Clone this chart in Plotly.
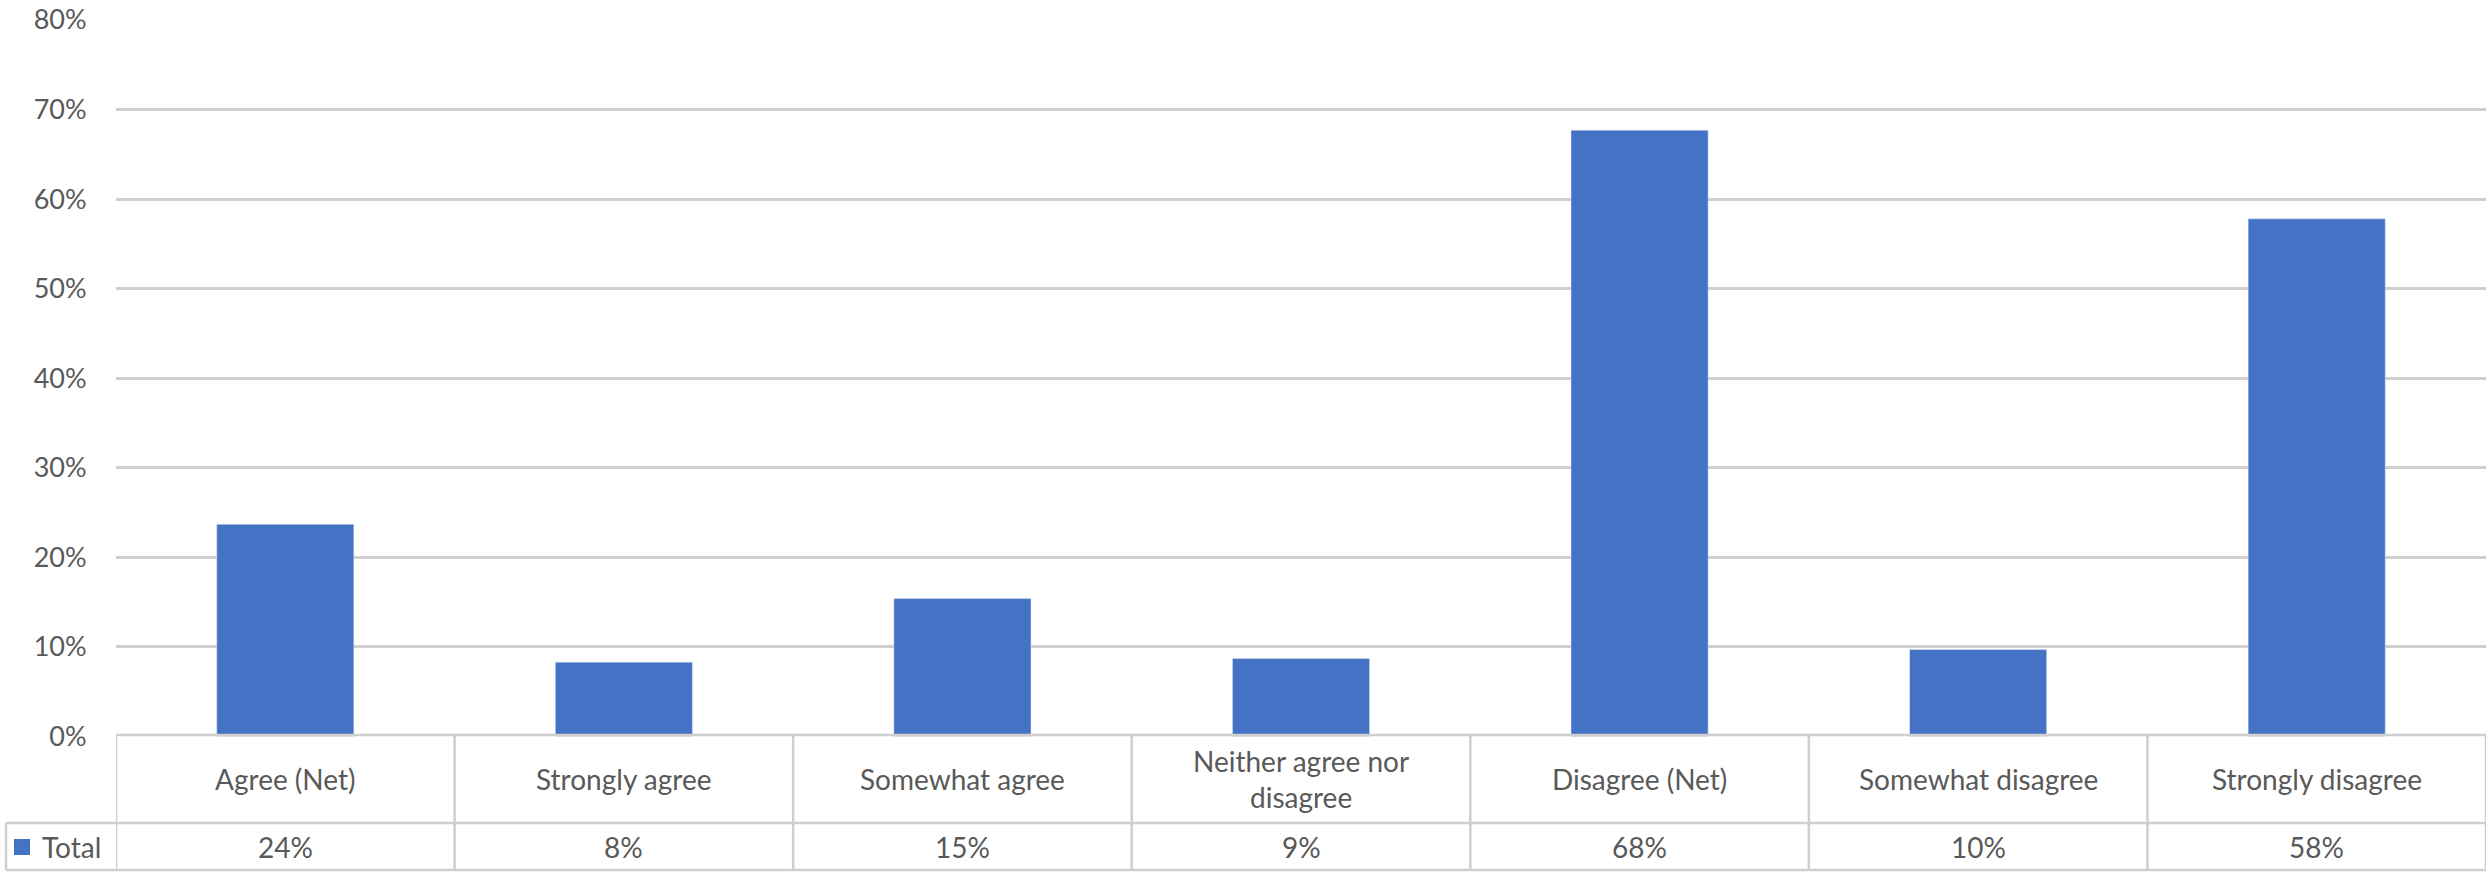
import plotly.graph_objects as go

# ---- data ----
categories = ["Agree (Net)", "Strongly agree", "Somewhat agree",
              "Neither agree nor disagree", "Disagree (Net)",
              "Somewhat disagree", "Strongly disagree"]
category_labels = ["Agree (Net)", "Strongly agree", "Somewhat agree",
                   "Neither agree nor<br>disagree", "Disagree (Net)",
                   "Somewhat disagree", "Strongly disagree"]
total_values = [0.237, 0.083, 0.154, 0.087, 0.677, 0.097, 0.578]
series_name = "Total"
y_tick_vals = [0, 0.1, 0.2, 0.3, 0.4, 0.5, 0.6, 0.7, 0.8]
y_tick_text = ["0%", "10%", "20%", "30%", "40%", "50%", "60%", "70%", "80%"]

# ---- layout helpers ----
W, H = 2488, 872
def px_x(p):
    return p / W
def px_y(p):
    return 1 - p / H

FONT = "Lato"
TXT = "#595959"
LINE = "#CFCFCF"
BLUE = "#4472C4"

plot_left, plot_right = 116, 2486
zero_y, top_y = 736.5, 20
table_top, table_mid, table_bot = 735, 823, 870

fig = go.Figure()
fig.add_trace(go.Bar(x=list(range(len(categories))), y=total_values,
                     name=series_name, marker=dict(color=BLUE),
                     showlegend=False,
                     hovertext=categories))

shapes = []
# horizontal table lines
shapes.append(dict(type="line", xref="paper", yref="paper",
                   x0=px_x(plot_left), x1=px_x(plot_right),
                   y0=px_y(table_top), y1=px_y(table_top),
                   line=dict(color=LINE, width=2.5)))
for yy in (table_mid, table_bot):
    shapes.append(dict(type="line", xref="paper", yref="paper",
                       x0=px_x(6), x1=px_x(plot_right),
                       y0=px_y(yy), y1=px_y(yy),
                       line=dict(color=LINE, width=2.5)))
# vertical table lines
shapes.append(dict(type="line", xref="paper", yref="paper",
                   x0=px_x(6), x1=px_x(6),
                   y0=px_y(table_mid), y1=px_y(table_bot),
                   line=dict(color=LINE, width=2.5)))
for i in range(len(categories) + 1):
    shapes.append(dict(type="line", xref="x", yref="paper",
                       x0=i - 0.5, x1=i - 0.5,
                       y0=px_y(table_top), y1=px_y(table_bot),
                       line=dict(color=LINE, width=2.5)))
# legend key
shapes.append(dict(type="rect", xref="paper", yref="paper",
                   x0=px_x(14), x1=px_x(30), y0=px_y(839), y1=px_y(855),
                   fillcolor=BLUE, line=dict(width=0)))

annotations = []
for i, lab in enumerate(category_labels):
    annotations.append(dict(x=i, y=px_y(779), xref="x", yref="paper",
                            text=lab, showarrow=False, xanchor="center",
                            yanchor="middle",
                            font=dict(family=FONT, size=28, color=TXT)))
for i, v in enumerate(total_values):
    annotations.append(dict(x=i, y=px_y(847), xref="x", yref="paper",
                            text=f"{round(v * 100)}%", showarrow=False,
                            xanchor="center", yanchor="middle",
                            font=dict(family=FONT, size=28, color=TXT)))
annotations.append(dict(x=px_x(40), y=px_y(847), xref="paper", yref="paper",
                        text=series_name, showarrow=False, xanchor="left",
                        yanchor="middle",
                        font=dict(family=FONT, size=28, color=TXT)))

fig.update_layout(
    width=W, height=H,
    margin=dict(l=0, r=0, t=0, b=0, autoexpand=False),
    paper_bgcolor="white", plot_bgcolor="white",
    bargap=0.595,
    shapes=shapes, annotations=annotations,
    xaxis=dict(domain=[px_x(plot_left), px_x(plot_right)],
               range=[-0.5, len(categories) - 0.5], automargin=False,
               showticklabels=False, showgrid=False, zeroline=False,
               showline=False, ticks=""),
    yaxis=dict(domain=[px_y(zero_y), px_y(top_y)], range=[0, 0.8],
               automargin=False,
               tickvals=y_tick_vals, ticktext=y_tick_text,
               showgrid=True, gridcolor=LINE, gridwidth=2.5,
               zeroline=False, showline=False,
               ticks="outside", ticklen=23, tickcolor="rgba(0,0,0,0)",
               tickfont=dict(family=FONT, size=27, color=TXT)),
)

fig.write_html(
    "out.html",
    config={"displayModeBar": False},
    post_script="document.body.style.margin='0';"
                "document.body.style.overflow='hidden';",
)
